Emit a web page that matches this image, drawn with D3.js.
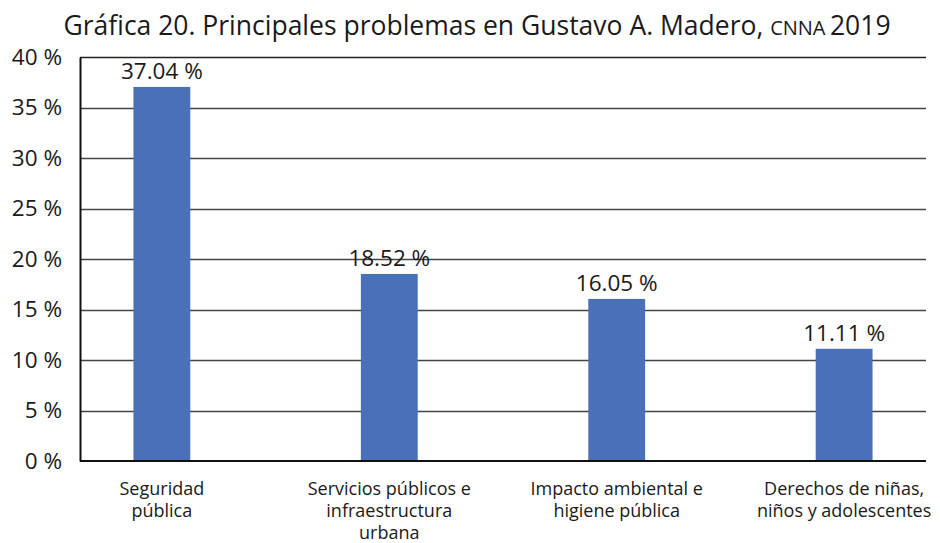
<!DOCTYPE html>
<html>
<head>
<meta charset="utf-8">
<script src="https://cdn.jsdelivr.net/npm/d3@7"></script>
<style>
  body { margin: 0; background: #fff; }
  text { font-family: "Open Sans", "Noto Sans", sans-serif; fill: #1a1a1a; }
</style>
</head>
<body>
<div id="chart"></div>
<script>
// data
var categories = [
    ["Seguridad", "pública"],
    ["Servicios públicos e", "infraestructura", "urbana"],
    ["Impacto ambiental e", "higiene pública"],
    ["Derechos de niñas,", "niños y adolescentes"]
];
var values = [37.04, 18.52, 16.05, 11.11];
var yTicks = [0, 5, 10, 15, 20, 25, 30, 35, 40];

var width = 940;
var height = 543;

var marginTop = 57;
var marginRight = 14;
var marginBottom = 82;
var marginLeft = 80;

// Create the SVG container.
const svg = d3.create("svg")
    .attr("width", width)
    .attr("height", height);

// title
const title = svg.append("text")
    .attr("x", 477)
    .attr("y", 35)
    .attr("text-anchor", "middle")
    .style("font-size", "26.5px");
title.append("tspan").text("Gráfica 20. Principales problemas en Gustavo A. Madero, ");
title.append("tspan").style("font-size", "20px").text("CNNA");
title.append("tspan").text("\u20092019");

// y scale
var y = d3.scaleLinear()
    .domain([0, 40])
    .range([height - marginBottom, marginTop]);

// x scale (band positions fitted to the reference)
var x = d3.scaleBand()
    .domain(d3.range(categories.length))
    .range([marginLeft, width - marginRight])
    .paddingInner(0.75)
    .paddingOuter(0.235)
    .align(0.5);

// gridlines
svg.append("g")
    .selectAll("line")
    .data(yTicks.filter(d => d > 0))
    .join("line")
    .attr("x1", marginLeft)
    .attr("x2", width - marginRight)
    .attr("y1", d => Math.round(y(d)) + 0.5)
    .attr("y2", d => Math.round(y(d)) + 0.5)
    .attr("stroke", d => d === 40 ? "#222" : "#444")
    .attr("stroke-width", 1.3);

// bars
svg.append("g")
    .selectAll("rect")
    .data(values)
    .join("rect")
    .attr("x", (d, i) => x(i))
    .attr("y", d => y(d))
    .attr("width", x.bandwidth())
    .attr("height", d => y(0) - y(d))
    .attr("fill", "#4a71b7");

// value labels
svg.append("g")
    .selectAll("text")
    .data(values)
    .join("text")
    .attr("x", (d, i) => x(i) + x.bandwidth() / 2)
    .attr("y", d => y(d) - 8)
    .attr("text-anchor", "middle")
    .style("font-size", "22.5px")
    .text(d => d.toFixed(2) + " %");

// y axis
const gy = svg.append("g")
    .attr("transform", `translate(${marginLeft},0)`)
    .call(d3.axisLeft(y).tickValues(yTicks).tickSize(0).tickPadding(18).tickFormat(d => d + " %"));
gy.select(".domain").attr("stroke", "#111").attr("stroke-width", 2);
gy.selectAll("text")
    .style("font-size", "22.5px")
    .style("font-family", "\"Open Sans\", sans-serif")
    .attr("fill", "#1a1a1a");

// x axis baseline
svg.append("line")
    .attr("x1", marginLeft)
    .attr("x2", width - marginRight)
    .attr("y1", y(0))
    .attr("y2", y(0))
    .attr("stroke", "#111")
    .attr("stroke-width", 2);

// category labels
const cats = svg.append("g")
    .selectAll("text")
    .data(categories)
    .join("text")
    .attr("x", (d, i) => x(i) + x.bandwidth() / 2)
    .attr("y", height - marginBottom + 34)
    .attr("text-anchor", "middle")
    .style("font-size", "18px");
cats.selectAll("tspan")
    .data(d => d)
    .join("tspan")
    .attr("x", function () { return this.parentNode.getAttribute("x"); })
    .attr("dy", (d, i) => i === 0 ? 0 : 22)
    .text(d => d);

document.getElementById("chart").appendChild(svg.node());
</script>
</body>
</html>
